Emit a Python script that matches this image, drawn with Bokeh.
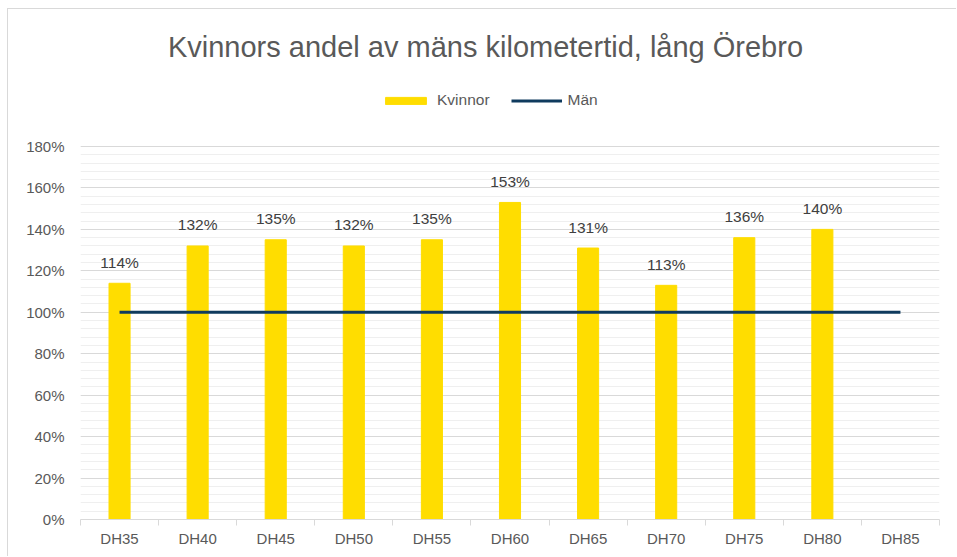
from bokeh.plotting import figure
from bokeh.models import (ColumnDataSource, FixedTicker, NumeralTickFormatter, Range1d,
                          Legend, LegendItem, Label)
from bokeh.core.properties import value
from bokeh.embed import file_html
from bokeh.resources import INLINE

categories = ["DH35", "DH40", "DH45", "DH50", "DH55", "DH60", "DH65", "DH70", "DH75", "DH80", "DH85"]
kvinnor = [1.14, 1.32, 1.35, 1.32, 1.35, 1.53, 1.31, 1.13, 1.36, 1.40, None]
man = [1.0, 1.0, 1.0, 1.0, 1.0, 1.0, 1.0, 1.0, 1.0, 1.0, 1.0]
y_ticks = [0, 0.2, 0.4, 0.6, 0.8, 1.0, 1.2, 1.4, 1.6, 1.8]
title_text = "Kvinnors andel av mäns kilometertid, lång Örebro"

FONT = "Liberation Sans"
GRAY = "#595959"
YELLOW = "#FFDD00"
NAVY = "#0f3b5e"

# layout (pixels): frame spans the full canvas height; the 0-180% axis occupies the lower part
FRAME_H = 510
AXIS_H = 373
Y_MAX = y_ticks[-1]
Y_TOP = Y_MAX * FRAME_H / AXIS_H

xs = [i + 0.5 for i in range(len(categories))]
bar_x = [x for x, v in zip(xs, kvinnor) if v is not None]
bar_v = [v for v in kvinnor if v is not None]
bar_lbl = [f"{round(v * 100)}%" for v in bar_v]

bars = ColumnDataSource(dict(x=bar_x, top=bar_v, lbl=bar_lbl))
line = ColumnDataSource(dict(x=xs, y=man))

p = figure(width=949, height=548, output_backend="svg", toolbar_location=None,
           x_range=Range1d(0, len(categories)), y_range=Range1d(0, Y_TOP),
           min_border_left=72, min_border_right=18, min_border_top=0, min_border_bottom=38)
p.outline_line_color = None
p.styles = {"margin-left": "7px", "margin-top": "8px",
            "border-top": "1px solid #d9d9d9", "border-left": "1px solid #d9d9d9"}

vb = p.vbar(x="x", top="top", width=0.27, source=bars, color=YELLOW)
ln = p.line(x="x", y="y", source=line, line_color=NAVY, line_width=3)

p.text(x="x", y="top", text="lbl", source=bars, text_align="center", text_baseline="alphabetic",
       y_offset=-21, text_font=value(FONT), text_font_size="15.5px", text_color="#404040")

# axes
p.yaxis.ticker = FixedTicker(ticks=y_ticks, minor_ticks=[i * 0.04 for i in range(46)])
p.yaxis.formatter = NumeralTickFormatter(format="0%")
p.yaxis.axis_line_color = None
p.yaxis.major_tick_line_color = None
p.yaxis.minor_tick_line_color = None
p.yaxis.major_label_standoff = 10
p.yaxis.major_label_text_font = FONT
p.yaxis.major_label_text_font_size = "15px"
p.yaxis.major_label_text_color = GRAY

p.xaxis.ticker = FixedTicker(ticks=xs, minor_ticks=list(range(len(categories) + 1)))
p.xaxis.major_label_overrides = {x: c for x, c in zip(xs, categories)}
p.xaxis.axis_line_color = "#d9d9d9"
p.xaxis.major_tick_line_color = None
p.xaxis.minor_tick_line_color = "#d9d9d9"
p.xaxis.minor_tick_out = 6
p.xaxis.minor_tick_in = 0
p.xaxis.major_label_standoff = 4
p.xaxis.major_label_text_font = FONT
p.xaxis.major_label_text_font_size = "15px"
p.xaxis.major_label_text_color = GRAY

p.xgrid.grid_line_color = None
p.ygrid.grid_line_color = "#d9d9d9"
p.ygrid.minor_grid_line_color = "#efefef"

# title (inside the tall frame, above the 180% line)
p.add_layout(Label(x=5.186, y=Y_MAX * 473 / AXIS_H, text=title_text,
                   text_align="center", text_baseline="alphabetic",
                   text_font=FONT, text_font_size="29px", text_color=GRAY))

legend = Legend(items=[LegendItem(label="Kvinnor", renderers=[vb]),
                       LegendItem(label="Män", renderers=[ln])],
                orientation="horizontal", location=(300, 409),
                glyph_width=51, glyph_height=9, label_height=20, label_standoff=6, spacing=21,
                padding=0, margin=0, border_line_color=None, background_fill_alpha=0,
                label_text_font=FONT, label_text_font_size="15.5px", label_text_color=GRAY)
p.add_layout(legend, "center")

open("out.html", "w").write(file_html(p, INLINE))
